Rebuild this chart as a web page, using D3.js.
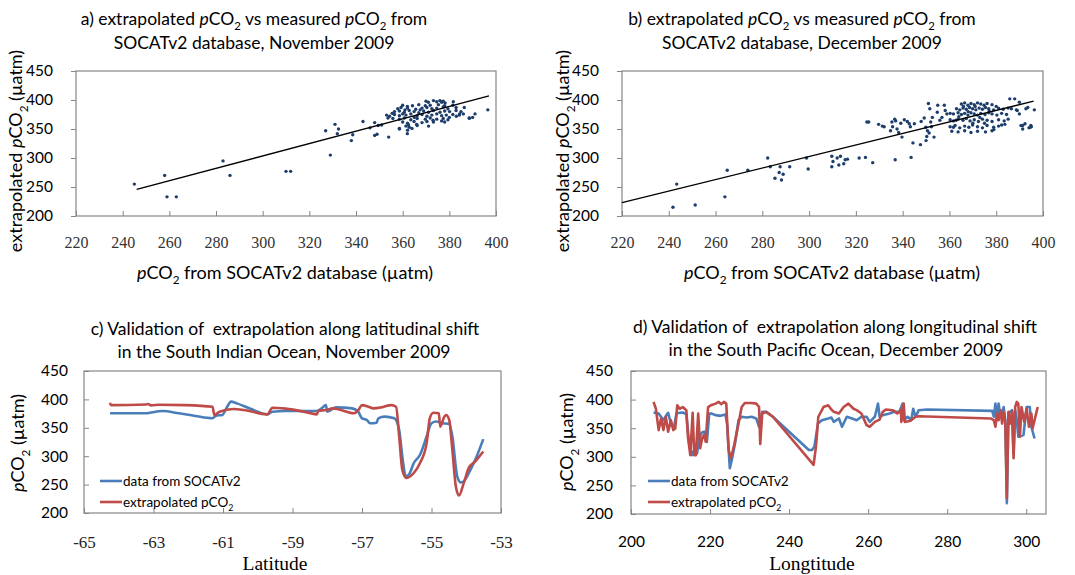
<!DOCTYPE html>
<html lang="en">
<head>
<meta charset="UTF-8">
<title>Extrapolated vs measured pCO2</title>
<script src="https://d3js.org/d3.v7.min.js"></script>
<style>
  body { margin: 0; background: #fff; }
  svg { display: block; font-family: Lato, "Open Sans", sans-serif; }
  text { white-space: pre; }
</style>
</head>
<body>
<div id="chart"></div>
<script>
// ---- data ----
const yTicks = [200, 250, 300, 350, 400, 450];
const scatterXTicks = [220, 240, 260, 280, 300, 320, 340, 360, 380, 400];
const latTicks = [-65, -63, -61, -59, -57, -55, -53];
const lonTicks = [200, 220, 240, 260, 280, 300];

// a) November 2009: [measured, extrapolated]
const novPoints = [
  [245,255],[258,270],[259,233],[263,233],[283,295],[286,270],[310,277],[312,277],[327,347],[329,305],
  [331,358],[332.5,350],[332,342],[338,330],[338.6,340],[343,363],[348,339],[349,341],[348,361],[349.5,356],
  [354,336],[358.6,351],[362,342],[346,352],[351,357],
  [371,396],[373.2,399],[374.6,397],[376,399],[376.7,396],[377.4,398],[378.2,395],
  [360,391],[364.2,390],[366.9,392],[369.7,390],[371.8,391],[375.3,392],[378,390],[381.5,391],[362,389],
  [357.9,385],[359.3,387],[362.1,386],[365.6,384],[368.3,386],[370.4,387],[372.5,385],[374.6,386],[377.4,388],
  [379.4,385],[382.9,387],[386.4,387],[361,383],
  [356.5,380],[358.6,381],[360.7,379],[362.8,382],[364.9,380],[366.9,378],[369,381],[371.1,379],[373.2,382],
  [376,379],[378,381],[380.1,380],[382.9,382],[385,380],[367.5,383],
  [353.1,374],[354.4,372],[356.5,375],[358.6,373],[361.4,374],[363.5,376],[366.2,373],[368.3,375],[370.4,372],
  [372.5,374],[374.6,376],[376.7,373],[378.7,374],[381.5,375],[384.3,374],[355.5,377],[360,376],
  [353.7,369],[355.8,368],[358.6,367],[360.7,369],[363.5,366],[366.2,368],[369.7,367],[371.8,369],[374.6,367],
  [377.4,368],[379.4,366],[388.5,369],[365,370],[373,365],
  [360,362],[362.1,360],[364.9,363],[368.3,361],[370.4,363],[373.2,362],[376.7,364],[366,358],[362.5,357],
  [361.4,355],[362.8,353],[366.2,356],[371.1,355],[364,351],[358.6,350],[362.1,348],
  [388.6,368.5],[391,376],[390,370],[381.7,397],[380,370],[396.5,383],[384.4,376],[383,372],[386,376],[378,362],[370,398]
];
const novFitX = [246, 397];
const novFitY = [246, 407];

// b) December 2009: [measured, extrapolated]
const decPoints = [
  [241.8,215],[243.4,255],[251.3,219],[264,233],[265,279],[273.8,279],[282.3,300],[283.4,285],[285.4,265],[287.2,275],
  [288.2,262],[288.9,272],[287.6,285],[291.7,285],[298.9,300],[299.6,281],[309.7,303],[310.2,294],[309.7,285],[312,300],
  [312.7,288],[313.4,303],[314.8,290],[315.4,297],[316.4,298],[321.4,300],[324.1,301],[327.2,292],[324.7,362],[325.5,362],
  [329.7,358],[331.3,355],[332.1,354],[334.8,347],[335.7,354],[335.4,362],[336.6,367],[337,364],[337.6,350],[338.3,344],
  [339.7,336],[339.2,360],[340.7,366],[342,363],[342.8,359],[343.3,354],[336.8,297],[343.6,301],[344.4,326],[347.6,323],
  [345,359],[347.9,363],[349.2,369],[349.9,353],[350.6,347],[350.3,337],[350,330],[351,394],[351.6,385],[352.7,370],
  [352,362],[352.3,354],[353.4,336],[351.3,343],[354.8,379],[355,391],[355.9,365],[356.8,370],[357.8,391],[358.2,382],
  [358.9,376],[360.3,377],[361.7,353],[361,346],[362.8,365],
  [387.9,402],[385.8,402],[389,382],[390.6,356],[391.3,350],[392.3,359],[394.5,353],[395,354],[393.5,387],[396.3,383],[389.9,396],
  [365.1,393],[366.5,395],[367.9,391],[369.2,394],[370.6,392],[372,395],[373.4,393],[374.8,391],[376.1,394],[378.2,392],
  [363,385],[364.4,383],[365.8,386],[367.2,384],[368.6,387],[369.9,385],[371.3,383],[372.7,386],[374.1,384],[375.4,387],
  [376.8,385],[378.9,383],[381,386],[383,384],[385.1,386],[386.5,385],[388.6,383],[392.7,385],
  [361.7,376],[363.7,378],[365.1,375],[366.5,377],[367.9,374],[369.2,378],[370.6,376],[372,374],[373.4,377],[375.2,375],
  [376.8,378],[378.2,376],[380.3,374],[382.3,377],[384.4,375],[389.9,376],
  [360.3,366],[361.7,364],[363.7,367],[365.8,365],[367.2,368],[368.8,364],[370.6,366],[372.4,363],[374.1,367],[376.1,365],
  [378.2,363],[381,366],[383.4,364],[385.1,367],
  [360.3,354],[362.4,356],[364.4,352],[366.5,355],[368.3,353],[369.9,357],[372,354],[374.1,352],[376.1,356],[378.9,353],
  [381,355],[382.3,357],[383.7,358],[391.3,356],[394,352],[394.8,356],
  [363.7,345],[366.5,347],[369.2,344],[372,346],[375.4,345],[378.2,347],
  [366,389],[368,380],[371,389],[373,370],[375,360],[377,381],[370,360],[380,389],[364,371],[379,349]
];
const decFitX = [220, 396];
const decFitY = [223, 398];

// c) latitudinal shift, South Indian Ocean
const cSocat = [
  [-64.25,375.5],[-63.2,375.5],[-63.1,376.6],[-62.74,379.6],[-62.27,375.5],[-61.8,370.8],[-61.3,366.7],[-61.2,371.4],
  [-61.02,372.6],[-60.88,387],[-60.77,396],[-60.6,393],[-60.23,384],[-59.72,373.7],[-59.58,378.4],[-59.2,379.6],
  [-58.3,379.6],[-58.16,384.2],[-58.04,390],[-58,378.4],[-57.74,386],[-57.28,384.2],[-57.11,378.4],[-57,366.7],
  [-56.86,363.8],[-56.77,358],[-56.58,359],[-56.53,366.7],[-56.35,369.6],[-56.07,366.7],[-55.93,346.3],[-55.84,299.6],
  [-55.74,264.6],[-55.65,267.5],[-55.51,288],[-55.33,302.5],[-55.14,334.6],[-55,358],[-54.86,361],[-54.67,358],
  [-54.49,356.8],[-54.4,334.6],[-54.26,264.6],[-54.16,254],[-54.07,256],[-53.88,276],[-53.7,299.6],[-53.51,330]
];
const cExtrap = [
  [-64.25,394],[-64.23,390],[-63.2,391],[-63.16,392],[-63.07,389.5],[-62.83,390.7],[-62.1,390],[-61.3,387],
  [-61.25,372.6],[-61.1,378.4],[-60.7,383],[-60.4,381.3],[-59.72,373.7],[-59.58,385.4],[-59.2,383.7],[-58.67,378.4],
  [-58.3,373.7],[-58.26,380],[-58.02,381.3],[-57.84,384.2],[-57.23,375.5],[-57.09,382.5],[-57,390],[-56.81,387],
  [-56.67,384.2],[-56.44,386],[-56.16,390],[-56.02,387],[-55.93,334.6],[-55.84,276],[-55.72,261.6],[-55.51,270.4],
  [-55.33,288],[-55.14,323],[-55.05,366.7],[-54.95,376.6],[-54.79,375.5],[-54.75,352],[-54.63,369.6],[-54.58,372.6],
  [-54.49,363.8],[-54.4,311],[-54.3,247],[-54.21,230.7],[-54.07,253],[-53.93,279],[-53.74,290.8],[-53.51,308.3]
];

// d) longitudinal shift, South Pacific Ocean
const dSocat = [
  [205.7,377.4],[207,375.7],[207.6,370],[208.2,364],[209,373],[209.4,377],[210.2,355],[210.9,352.5],[211.5,375.7],
  [212.3,377],[213.1,377.4],[214,374.5],[214.8,317.7],[215.4,303],[216,312],[216.7,306],[217.3,335],[217.9,342],
  [218.5,344],[219.2,326],[219.8,375.7],[220.3,375.7],[221.4,372.8],[222.6,371.6],[223.9,374],[224.3,358],[225,280],
  [225.5,294.5],[226.4,326.4],[227.2,364],[228,370],[229.3,368.7],[230.5,370],[231.7,367],[232.4,352.5],[233.2,378.6],
  [234.2,378.6],[235.9,370],[245,312],[245.8,312],[246.4,317.7],[247.3,358],[248.3,364],[249.9,367],[250.7,368.7],
  [251.3,361],[252.6,367],[253.4,352.5],[254.6,370],[255.9,367],[257.1,364],[258.3,370],[259.6,370],[260.4,361],
  [261.7,370],[262.5,393],[262.9,370],[263.7,372.8],[265.4,375.7],[266.6,378.6],[267.9,378.6],[268.7,393],[269,364],
  [270,370],[270.9,364],[271.4,384],[272,370],[272.8,381.5],[274.9,382.6],[291.4,380.3],[291.8,370],[292.2,393],
  [292.6,364],[293,393],[293.5,370],[294.3,387],[294.7,364],[295.1,219],[295.5,375.7],[296.4,381.5],[296.8,306],
  [297.2,381.5],[297.6,364],[298,335],[299.3,338],[300.1,387],[300.9,387],[301.3,352.5],[302.1,332]
];
const dExtrap = [
  [205.7,396],[206.3,384],[207,346.7],[207.6,367],[208.2,346.7],[208.8,370],[209.4,343.8],[210.1,364],[210.7,346.7],
  [211.2,349.6],[211.7,390],[212.3,384],[213.1,387],[214,381.5],[214.4,335],[215,303],[215.6,377],[216,303],
  [216.4,303],[217,375.7],[217.5,315],[218.1,335],[218.5,338],[218.9,326.4],[219.5,387],[220.2,390],[221.4,393],
  [222.2,396],[222.8,392],[223.5,396],[224.1,393],[224.7,312],[225.3,297.4],[226.1,320.6],[227.2,358],[228,387],
  [228.8,394],[230.5,394],[231.7,393],[232.4,387],[232.7,322.4],[233.2,375.7],[234.2,378.6],[235.9,370],[246.2,285.9],
  [246.8,317.7],[247.4,370],[248.7,387],[249.9,390],[250.7,382.6],[251.3,378.6],[252.6,375.7],[253.8,387],[255,393],
  [256.3,384],[257.1,381.5],[258.3,375.7],[259.6,355.4],[260.4,352.5],[261.7,361],[262.9,365],[263.7,378.6],
  [264.5,382.6],[266.2,381.5],[267.4,375.7],[268.3,381.5],[268.4,361],[269,393],[269.3,361],[270.7,363],[272,370],
  [272.8,371],[291,367],[291.8,364],[292.2,352.5],[292.6,375.7],[293,364],[293.5,381.5],[293.9,358],[294.3,378.6],
  [294.7,361],[295.1,228],[295.5,378.6],[295.9,358],[296.4,378.6],[296.8,297.4],[297.2,387],[297.6,396],[298,393],
  [298.4,335],[298.8,387],[299.5,361],[300.1,384],[300.7,352.5],[301.3,375.7],[301.6,349.6],[302.9,387]
];

const BLUE = "#4a7ebb", RED = "#be4b48", DOT = "#1d3d6b";

const svg = d3.select("#chart").append("svg").attr("width", 1075).attr("height", 575);

// text with *italic* and _2 subscript markup
function rich(t, str, size) {
  const parts = str.split(/(\*[^*]+\*|_\d)/).filter(s => s.length);
  let down = false;
  parts.forEach(p => {
    const ts = t.append("tspan");
    if (p[0] === "_") {
      ts.text(p.slice(1)).attr("font-size", size * 0.65).attr("dy", size * 0.3);
      down = true;
      return;
    }
    if (p[0] === "*") ts.text(p.slice(1, -1)).style("font-style", "italic");
    else ts.text(p);
    if (down) { ts.attr("dy", -size * 0.3); down = false; }
  });
  return t;
}

function label(x, y, str, size, opts = {}) {
  const t = svg.append("text")
    .attr("x", x).attr("y", y)
    .attr("font-size", size)
    .attr("text-anchor", opts.anchor || "middle")
    .attr("fill", opts.color || "#000")
    .style("font-family", opts.font || null);
  if (opts.rotate) {
    t.attr("x", 0).attr("y", 0).attr("dy", "0.35em")
      .attr("transform", `translate(${x},${y}) rotate(-90)`);
  }
  return rich(t, str, size);
}

function panel(p) {
  const x = d3.scaleLinear().domain(p.xDomain).range([p.x0, p.x1]);
  const y = d3.scaleLinear().domain([200, 450]).range([p.y1, p.y0]);

  // y axis
  const ya = svg.append("g")
    .attr("transform", `translate(${p.x0},0)`)
    .call(d3.axisLeft(y).tickValues(yTicks).tickSizeInner(p.yTickIn ? -5 : 5).tickSizeOuter(0).tickPadding(p.yPad));
  ya.select(".domain").remove();
  ya.selectAll("line").attr("stroke", "#868686");
  ya.selectAll("text").attr("font-size", 15.5).attr("fill", "#000")
    .style("font-family", "Lato, sans-serif");

  // x axis (plain hyphen for negatives, as in the original)
  const xa = svg.append("g")
    .attr("transform", `translate(0,${p.y1})`)
    .call(d3.axisBottom(x).tickValues(p.xTicks).tickFormat(d => String(d)).tickSizeInner(-5).tickSizeOuter(0));
  xa.select(".domain").remove();
  xa.selectAll("line").attr("stroke", "#868686");
  xa.selectAll("text").attr("y", p.xLabOff).attr("dy", "0.35em")
    .attr("font-size", p.xTickSize).attr("fill", p.xTickColor)
    .style("font-family", p.xTickFont);

  // plot frame
  svg.append("rect")
    .attr("x", p.x0).attr("y", p.y0)
    .attr("width", p.x1 - p.x0).attr("height", p.y1 - p.y0)
    .attr("fill", "none").attr("stroke", "#868686").attr("stroke-width", 1.2);

  if (p.points) {
    svg.append("g").selectAll("circle")
      .data(p.points).join("circle")
      .attr("cx", d => x(d[0])).attr("cy", d => y(d[1]))
      .attr("r", 1.7).attr("fill", DOT);
    const fit = p.fitX.map((v, i) => [v, p.fitY[i]]);
    svg.append("path")
      .attr("d", d3.line().x(d => x(d[0])).y(d => y(d[1]))(fit))
      .attr("fill", "none").attr("stroke", "#000").attr("stroke-width", 1.4);
  }

  if (p.series) {
    p.series.forEach(s => {
      svg.append("path")
        .attr("d", d3.line().curve(p.curve).x(d => x(d[0])).y(d => y(d[1]))(s.data))
        .attr("fill", "none").attr("stroke", s.color)
        .attr("stroke-width", 2.6).attr("stroke-linejoin", "round");
    });
    // legend
    p.series.forEach((s, i) => {
      const ly = p.legY + i * 21;
      svg.append("line")
        .attr("x1", p.legX).attr("x2", p.legX + 22)
        .attr("y1", ly).attr("y2", ly)
        .attr("stroke", s.color).attr("stroke-width", 2.6);
      label(p.legX + 23, ly + 5, s.name, 13.5, { anchor: "start" });
    });
  }
}

// a)
panel({
  x0: 76, x1: 496, y0: 71, y1: 216, xDomain: [220, 400], xTicks: scatterXTicks,
  yPad: 18, yTickIn: false, xLabOff: 26, xTickColor: "#333", xTickSize: 16, xTickFont: "'Liberation Serif', serif",
  points: novPoints, fitX: novFitX, fitY: novFitY
});
label(254, 25, "a) extrapolated *p*CO_2 vs measured *p*CO_2 from", 17.5);
label(254, 49, "SOCATv2 database, November 2009", 17.5);
label(16, 151, "extrapolated *p*CO_2 (µatm)", 18, { rotate: true });
label(285, 279, "*p*CO_2 from SOCATv2 database (µatm)", 18);

// b)
panel({
  x0: 622, x1: 1043, y0: 71, y1: 216, xDomain: [220, 400], xTicks: scatterXTicks,
  yPad: 18, yTickIn: false, xLabOff: 26, xTickColor: "#333", xTickSize: 16, xTickFont: "'Liberation Serif', serif",
  points: decPoints, fitX: decFitX, fitY: decFitY
});
label(802, 25, "b) extrapolated *p*CO_2 vs measured *p*CO_2 from", 17.5);
label(802, 49, "SOCATv2 database, December 2009", 17.5);
label(563, 151, "extrapolated *p*CO_2 (µatm)", 18, { rotate: true });
label(832, 279, "*p*CO_2 from SOCATv2 database (µatm)", 18);

// c)
panel({
  x0: 84, x1: 501, y0: 371, y1: 513, xDomain: [-65, -53], xTicks: latTicks,
  yPad: 16, yTickIn: true, xLabOff: 29, xTickColor: "#222", xTickSize: 17, xTickFont: "'Liberation Serif', serif",
  curve: d3.curveMonotoneX, legX: 100, legY: 481,
  series: [
    { name: "data from SOCATv2", color: BLUE, data: cSocat },
    { name: "extrapolated pCO_2", color: RED, data: cExtrap }
  ]
});
label(285, 335, "c) Validation of  extrapolation along latitudinal shift", 17.5);
label(284, 358, "in the South Indian Ocean, November 2009", 17.5);
label(18, 443, "*p*CO_2 (µatm)", 18, { rotate: true });
label(275, 570, "Latitude", 19.5, { font: "'Liberation Serif', serif" });

// d)
panel({
  x0: 631, x1: 1046, y0: 371, y1: 514, xDomain: [200, 305], xTicks: lonTicks,
  yPad: 18, yTickIn: true, xLabOff: 28, xTickColor: "#000", xTickSize: 15.5, xTickFont: "Lato, sans-serif",
  curve: d3.curveLinear, legX: 648, legY: 481,
  series: [
    { name: "data from SOCATv2", color: BLUE, data: dSocat },
    { name: "extrapolated pCO_2", color: RED, data: dExtrap }
  ]
});
label(835, 333, "d) Validation of  extrapolation along longitudinal shift", 17.5);
label(836, 356, "in the South Pacific Ocean, December 2009", 17.5);
label(567, 442, "*p*CO_2 (µatm)", 18, { rotate: true });
label(812, 570, "Longtitude", 19.5, { font: "'Liberation Serif', serif" });
</script>
</body>
</html>
